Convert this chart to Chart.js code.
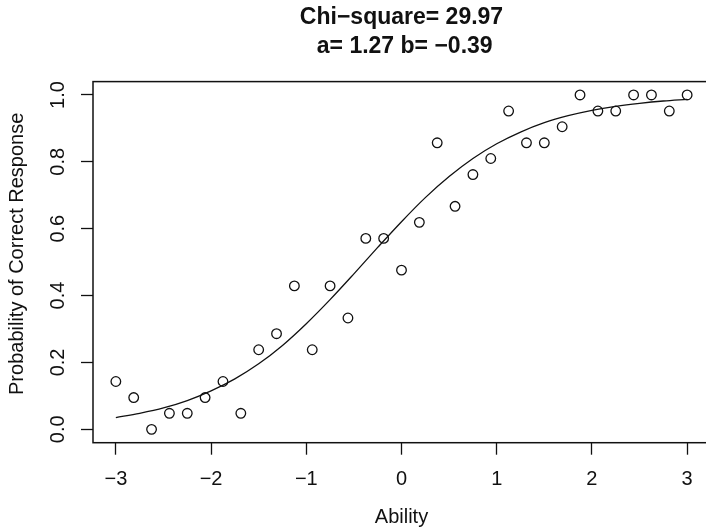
<!DOCTYPE html>
<html><head><meta charset="utf-8">
<script src="https://cdn.jsdelivr.net/npm/chart.js@4.4.1/dist/chart.umd.min.js"></script>
<style>
html,body{margin:0;padding:0;overflow:hidden;background:#fff;width:706px;height:527px}
#wrap{position:absolute;left:0;top:0;width:803px;height:527px}
</style>
</head><body><div id="wrap"><canvas id="c" width="803" height="527"></canvas></div>
<script>
// Observed data: ability group midpoints and proportion correct
const abilityLevels = [-3, -2.8125, -2.625, -2.4375, -2.25, -2.0625, -1.875, -1.6875, -1.5, -1.3125, -1.125,
  -0.9375, -0.75, -0.5625, -0.375, -0.1875, 0, 0.1875, 0.375, 0.5625, 0.75, 0.9375, 1.125,
  1.3125, 1.5, 1.6875, 1.875, 2.0625, 2.25, 2.4375, 2.625, 2.8125, 3];
const observedProportions = [0.143, 0.095, 0.0, 0.048, 0.048, 0.095, 0.143, 0.048, 0.238, 0.286, 0.429,
  0.238, 0.429, 0.333, 0.571, 0.571, 0.476, 0.619, 0.857, 0.667, 0.762, 0.810, 0.952,
  0.857, 0.857, 0.905, 1.0, 0.952, 0.952, 1.0, 1.0, 0.952, 1.0];
// Fitted item characteristic curve
const curveAbility = [-3, -2.75, -2.5, -2.25, -2, -1.75, -1.5, -1.25, -1, -0.75, -0.5, -0.25, 0,
  0.25, 0.5, 0.75, 1, 1.25, 1.5, 1.75, 2, 2.25, 2.5, 2.75, 3];
const curveProbability = [0.035, 0.048, 0.064, 0.086, 0.115, 0.151, 0.196, 0.251, 0.316, 0.388, 0.465, 0.544, 0.621,
  0.693, 0.756, 0.810, 0.854, 0.889, 0.917, 0.938, 0.954, 0.966, 0.975, 0.982, 0.987];
const xTickValues = [-3, -2, -1, 0, 1, 2, 3];
const yTickValues = [0, 0.2, 0.4, 0.6, 0.8, 1.0];
const titleLine1 = 'Chi\u2212square= 29.97';
const titleLine2 = ' a= 1.27 b= \u22120.39';
const xAxisTitle = 'Ability';
const yAxisTitle = 'Probability of Correct Response';

const INK = '#111';
Chart.defaults.font.family = "'Liberation Sans', Arial, Helvetica, sans-serif";
Chart.defaults.color = INK;

const boxPlugin = {
  id: 'box',
  afterDatasetsDraw(chart) {
    const {ctx, chartArea: a} = chart;
    ctx.save();
    ctx.strokeStyle = INK;
    ctx.lineWidth = 1.5;
    ctx.strokeRect(a.left, a.top, a.right - a.left, a.bottom - a.top);
    ctx.restore();
  }
};

const fmtX = v => v < 0 ? '\u2212' + Math.abs(v) : String(v);

new Chart(document.getElementById('c'), {
  type: 'scatter',
  data: {
    datasets: [
      {
        label: 'ICC',
        data: curveAbility.map((x, i) => ({x, y: curveProbability[i]})),
        showLine: true,
        pointRadius: 0,
        borderColor: INK,
        borderWidth: 1.3,
        cubicInterpolationMode: 'monotone',
        fill: false
      },
      {
        label: 'Observed',
        data: abilityLevels.map((x, i) => ({x, y: observedProportions[i]})),
        pointRadius: 4.8,
        pointBorderWidth: 1.3,
        pointBorderColor: INK,
        pointBackgroundColor: 'rgba(0,0,0,0)',
        showLine: false
      }
    ]
  },
  options: {
    responsive: false,
    animation: false,
    devicePixelRatio: 1,
    events: [],
    layout: {padding: 0},
    plugins: {
      legend: {display: false},
      tooltip: {enabled: false},
      title: {
        display: true, text: titleLine1, color: INK,
        font: {size: 23, weight: 'bold', lineHeight: '24px'},
        padding: {top: 5.5, bottom: 0}
      },
      subtitle: {
        display: true, text: titleLine2, color: INK,
        font: {size: 23, weight: 'bold', lineHeight: '24px'},
        padding: {top: 5.2, bottom: 22.9}
      }
    },
    scales: {
      x: {
        type: 'linear', min: -3.24, max: 3.24,
        afterBuildTicks: s => { s.ticks = xTickValues.map(v => ({value: v})); },
        afterFit: s => { s.height = 84.3; },
        grid: {drawOnChartArea: false, drawTicks: true, tickLength: 12, tickColor: INK, tickWidth: 1.3},
        border: {display: false},
        ticks: {padding: 13, font: {size: 20}, color: INK, maxRotation: 0, autoSkip: false, callback: v => fmtX(v)},
        title: {display: true, text: xAxisTitle, color: INK, font: {size: 20, lineHeight: 1.0}, padding: {top: 0, bottom: 0}}
      },
      y: {
        type: 'linear', min: -0.04, max: 1.04,
        afterBuildTicks: s => { s.ticks = yTickValues.map(v => ({value: v})); },
        afterFit: s => { s.width = 93; },
        grid: {drawOnChartArea: false, drawTicks: true, tickLength: 12, tickColor: INK, tickWidth: 1.3},
        border: {display: false},
        ticks: {padding: 9, font: {size: 20}, color: INK, minRotation: 90, maxRotation: 90, crossAlign: 'center', autoSkip: false,
          callback: v => Number(v).toFixed(1)},
        title: {display: true, text: '   ' + yAxisTitle, color: INK, font: {size: 20, lineHeight: 1.2}, padding: {top: 5, bottom: 0}}
      },
      yRightSpace: {
        type: 'linear', position: 'right', min: 0, max: 1, display: true,
        afterFit: s => { s.width = 93; },
        grid: {display: false}, border: {display: false}, ticks: {display: false}, title: {display: false}
      }
    }
  },
  plugins: [boxPlugin]
});
</script>
</body></html>
